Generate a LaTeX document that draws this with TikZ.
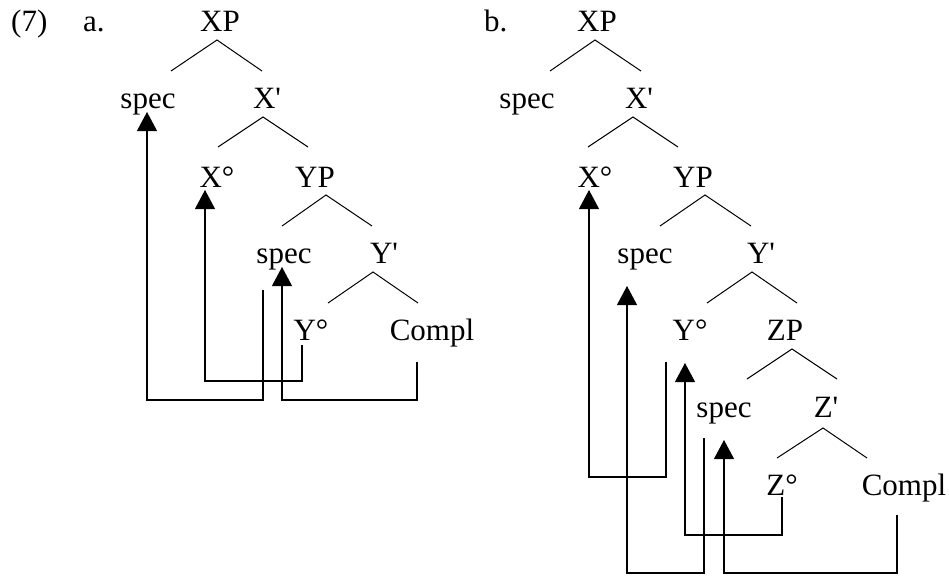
\documentclass[tikz,border=0pt]{standalone}
\usepackage{fontspec}
\setmainfont{Liberation Serif}
\usetikzlibrary{arrows.meta}
\tikzset{
  lbl/.style={anchor=base,inner sep=0pt,font=\fontsize{31}{37}\selectfont},
  lblw/.style={anchor=base west,inner sep=0pt,font=\fontsize{31}{37}\selectfont},
  branch/.style={line width=1pt},
  mv/.style={line width=1.1pt,line join=miter,-{Triangle[length=19pt,width=20pt]}}
}
\begin{document}
\begin{tikzpicture}[x=1pt,y=-1pt]
\useasboundingbox[fill=white] (0,0) rectangle (949,575);
% ---------- labels ----------
\node[lblw] (num) at (11,32) {(7)};
\node[lblw] (la) at (83,32) {a.};
\node[lblw] (lb) at (484,32) {b.};
% tree a
\node[lbl] (aXP) at (220,32) {XP};
\node[lbl] (aSpecA) at (148,108) {spec};
\node[lbl] (aXb) at (267,108) {X\textquotesingle};
\node[lbl] (aXo) at (217,187) {X°};
\node[lbl] (aYP) at (315,187) {YP};
\node[lbl] (aSpecB) at (284,263) {spec};
\node[lbl] (aYb) at (384,263) {Y\textquotesingle};
\node[lbl] (aYo) at (311,340) {Y°};
\node[lbl] (aCompl) at (432,340) {Compl};
% tree b
\node[lbl] (bXP) at (597,32) {XP};
\node[lbl] (bSpecA) at (527,108) {spec};
\node[lbl] (bXb) at (639,108) {X\textquotesingle};
\node[lbl] (bXo) at (595,187) {X°};
\node[lbl] (bYP) at (693,187) {YP};
\node[lbl] (bSpecB) at (645,263) {spec};
\node[lbl] (bYb) at (761,263) {Y\textquotesingle};
\node[lbl] (bYo) at (690,340) {Y°};
\node[lbl] (bZP) at (785,340) {ZP};
\node[lbl] (bSpecC) at (724,417) {spec};
\node[lbl] (bZb) at (826,417) {Z\textquotesingle};
\node[lbl] (bZo) at (782,495) {Z°};
\node[lbl] (bCompl) at (904,495) {Compl};
% ---------- branch points ----------
\coordinate (aXPt) at (217,40); \coordinate (aXPl) at (171,71); \coordinate (aXPr) at (262,71);
\coordinate (aXbt) at (263,117); \coordinate (aXbl) at (218,147); \coordinate (aXbr) at (308,147);
\coordinate (aYPt) at (326,195); \coordinate (aYPl) at (282,226); \coordinate (aYPr) at (372,226);
\coordinate (aYbt) at (373,272); \coordinate (aYbl) at (328,303); \coordinate (aYbr) at (418,303);
\coordinate (bXPt) at (595,40); \coordinate (bXPl) at (550,71); \coordinate (bXPr) at (641,71);
\coordinate (bXbt) at (633,117); \coordinate (bXbl) at (588,147); \coordinate (bXbr) at (678,147);
\coordinate (bYPt) at (705,195); \coordinate (bYPl) at (660,226); \coordinate (bYPr) at (751,226);
\coordinate (bYbt) at (752,272); \coordinate (bYbl) at (707,303); \coordinate (bYbr) at (797,303);
\coordinate (bZPt) at (792,349); \coordinate (bZPl) at (747,379); \coordinate (bZPr) at (837,379);
\coordinate (bZbt) at (823,428); \coordinate (bZbl) at (777,458); \coordinate (bZbr) at (867,458);
\foreach \n in {aXP,aXb,aYP,aYb,bXP,bXb,bYP,bYb,bZP,bZb}
  \draw[branch] (\n l) -- (\n t) -- (\n r);
% ---------- movement arrows, tree a ----------
\coordinate (a1s) at (263,290); \coordinate (a1t) at (147,112);
\draw[mv] (a1s) -- (263,400) -- (147,400) -- (a1t);
\coordinate (a2s) at (302,345); \coordinate (a2t) at (205,190);
\draw[mv] (a2s) -- (302,381) -- (205,381) -- (a2t);
\coordinate (a3s) at (417,362); \coordinate (a3t) at (282,267);
\draw[mv] (a3s) -- (417,400) -- (282,400) -- (a3t);
% ---------- movement arrows, tree b ----------
\coordinate (b1s) at (666,362); \coordinate (b1t) at (589,190);
\draw[mv] (b1s) -- (666,477) -- (589,477) -- (b1t);
\coordinate (b2s) at (704,438); \coordinate (b2t) at (627,286);
\draw[mv] (b2s) -- (704,573) -- (627,573) -- (b2t);
\coordinate (b3s) at (782,497); \coordinate (b3t) at (685,363);
\draw[mv] (b3s) -- (782,535) -- (685,535) -- (b3t);
\coordinate (b4s) at (897,515); \coordinate (b4t) at (724,440);
\draw[mv] (b4s) -- (897,573) -- (724,573) -- (b4t);
\end{tikzpicture}
\end{document}
